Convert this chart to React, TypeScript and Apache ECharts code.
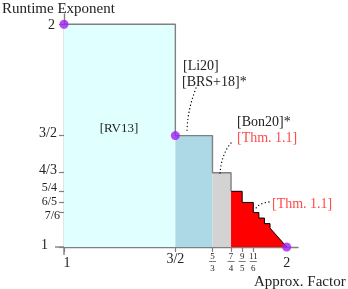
import React, { useEffect, useRef } from "react";
import * as echarts from "echarts";

// Staircase regions (boundaries on the approximation-factor axis, heights on the exponent axis)
const regionX = [1, 3 / 2, 5 / 3, 7 / 4];
const regionY = [2, 3 / 2, 4 / 3];
const regionColors = ["#e0ffff", "#add8e6", "#d3d3d3"];

// Red staircase (Thm. 1.1)
const redX = [1.75, 1.8, 1.85, 1.875, 1.9, 1.925];
const redY = [1.25, 1.2, 1.155, 1.13, 1.105, 1.085];
const redEnd = [2, 1];

// Purple points
const dotX = [1, 1.5, 2];
const dotY = [2, 1.5, 1];

// Axis ticks and labels
const xTickValues = [1, 1.5, 5 / 3, 1.75, 1.8, 1.85];
const xLabelValues = [1, 1.5, 5 / 3, 1.75, 1.8, 1.85, 2];
const xLabelTexts = ["1", "3/2", "5/3", "7/4", "9/5", "11/6", "2"];
const yTickValues = [1, 1.155, 1.2, 1.25, 4 / 3, 1.5, 2];
const yLabelTexts = ["1", "7/6", "6/5", "5/4", "4/3", "3/2", "2"];

const SERIF = "Liberation Serif";
const TXT = "#222";
const RED_TXT = "#ff4a4a";
const GRAY = "#808080";

function findIdx(vals: number[], v: number) {
  for (let i = 0; i < vals.length; i++) if (Math.abs(vals[i] - v) < 1e-6) return i;
  return -1;
}

export default function App() {
  const ref = useRef<HTMLDivElement>(null);
  useEffect(() => {
    if (!ref.current) return;
    const chart = echarts.init(ref.current, undefined, { renderer: "svg" });

    const areaSeries = regionColors.map((c, i) => ({
      type: "line",
      data: [
        [regionX[i], regionY[i]],
        [regionX[i + 1], regionY[i]],
      ],
      symbol: "none",
      lineStyle: { width: 0 },
      areaStyle: { color: c, opacity: 1, origin: "start" },
      z: 1,
    }));

    const outline: number[][] = regionY.map((y, i) => [regionX[i], y]);
    outline.push([regionX[3], redY[0]]);

    const redStep = redX.map((x, i) => [x, redY[i]]);

    const option: any = {
      animation: false,
      grid: { left: 64, top: 14, width: 234, height: 233, outerBoundsMode: "none", containLabel: false },
      xAxis: {
        type: "value",
        min: 1,
        max: 2.0507,
        splitLine: { show: false },
        axisLine: { show: true, lineStyle: { color: GRAY, width: 1.4 } },
        axisTick: { show: true, customValues: xTickValues, length: 5, lineStyle: { color: GRAY, width: 1.2 } },
        axisLabel: {
          customValues: xLabelValues,
          margin: 5,
          color: TXT,
          fontFamily: SERIF,
          formatter: (v: number) => {
            const i = findIdx(xLabelValues, v);
            const t = i >= 0 ? xLabelTexts[i] : "";
            if (t === "1") return "{lo1|1}";
            if (t === "2") return "{lo|2}";
            if (t === "3/2") return "{mid|3/2}";
            const [n, d] = t.split("/");
            return `{n|${n}}\n{b| }\n{d|${d}}`;
          },
          rich: {
            lo1: { fontFamily: SERIF, fontSize: 14, lineHeight: 20, padding: [0, 0, 0, 6], color: TXT },
            lo: { fontFamily: SERIF, fontSize: 14, lineHeight: 20, color: TXT },
            mid: { fontFamily: SERIF, fontSize: 14, lineHeight: 13, color: TXT },
            n: { fontFamily: SERIF, fontSize: 9, lineHeight: 8, color: TXT, align: "center" },
            b: { fontSize: 1, width: 7, height: 0.7, lineHeight: 3, backgroundColor: "#444", align: "center" },
            d: { fontFamily: SERIF, fontSize: 9, lineHeight: 9, color: TXT, align: "center" },
          },
        },
      },
      yAxis: {
        type: "value",
        min: 1,
        max: 2.046,
        splitLine: { show: false },
        axisLine: { show: true, lineStyle: { color: GRAY, width: 1.4 } },
        axisTick: { show: true, customValues: yTickValues, length: 5, lineStyle: { color: GRAY, width: 1.2 } },
        axisLabel: {
          customValues: yTickValues,
          margin: 4,
          color: TXT,
          fontFamily: SERIF,
          fontSize: 14,
          formatter: (v: number) => {
            const i = findIdx(yTickValues, v);
            const t = i >= 0 ? yLabelTexts[i] : "";
            if (t === "1") return "{one|1}";
            if (t === "2") return "{two|2}";
            if (t === "7/6") return "{low|7/6}";
            if (t === "6/5") return "{high|6/5}";
            if (t === "5/4") return "{mid|5/4}";
            return "{up|" + t + "}";
          },
          rich: {
            one: { fontFamily: SERIF, fontSize: 14, color: TXT, padding: [0, 12, 6, 0] },
            two: { fontFamily: SERIF, fontSize: 14, color: TXT, padding: [0, 5, 0, 0] },
            low: { fontFamily: SERIF, fontSize: 12, lineHeight: 12, color: TXT, padding: [5, 0, 0, 0] },
            high: { fontFamily: SERIF, fontSize: 12, lineHeight: 12, color: TXT, padding: [0, 3, 3, 0] },
            mid: { fontFamily: SERIF, fontSize: 12, lineHeight: 12, color: TXT, padding: [0, 3, 8, 0] },
            up: { fontFamily: SERIF, fontSize: 14, color: TXT, padding: [0, 3, 6, 0] },
          },
        },
      },
      series: [
        ...areaSeries,
        {
          type: "line",
          data: redStep,
          step: "end",
          symbol: "none",
          lineStyle: { color: "#000", width: 1 },
          areaStyle: { color: "#ff0000", opacity: 1, origin: "start" },
          z: 2,
        },
        {
          type: "line",
          data: [redStep[redStep.length - 1], redEnd],
          symbol: "none",
          lineStyle: { color: "#000", width: 1 },
          areaStyle: { color: "#ff0000", opacity: 1, origin: "start" },
          z: 2,
        },
        {
          type: "line",
          data: outline,
          step: "end",
          symbol: "none",
          lineStyle: { color: GRAY, width: 1.4 },
          z: 3,
        },
        {
          type: "scatter",
          data: dotX.map((x, i) => [x, dotY[i]]),
          symbol: "circle",
          symbolSize: 9,
          itemStyle: { color: "#a020f0" },
          z: 10,
        },
      ],
      graphic: [
        // axis extensions past the origin
        { type: "line", shape: { x1: 55, y1: 247, x2: 64, y2: 247 }, style: { stroke: GRAY, lineWidth: 1.4 }, z: 5 },
        { type: "line", shape: { x1: 64, y1: 247, x2: 64, y2: 255 }, style: { stroke: GRAY, lineWidth: 1.4 }, z: 5 },
        // titles
        { type: "text", x: 2, y: 8, style: { text: "Runtime Exponent", fontFamily: SERIF, fontSize: 15, fill: TXT, align: "left", verticalAlign: "middle" }, z: 20 },
        { type: "text", x: 254, y: 281, style: { text: "Approx. Factor", fontFamily: SERIF, fontSize: 15, fill: TXT, align: "left", verticalAlign: "middle" }, z: 20 },
        // annotations
        { type: "text", x: 119, y: 127, style: { text: "[RV13]", fontFamily: SERIF, fontSize: 13, fill: TXT, align: "center", verticalAlign: "middle" }, z: 20 },
        { type: "text", x: 183, y: 65, style: { text: "[Li20]", fontFamily: SERIF, fontSize: 14, fill: TXT, align: "left", verticalAlign: "middle" }, z: 20 },
        { type: "text", x: 182, y: 81, style: { text: "[BRS+18]*", fontFamily: SERIF, fontSize: 14, fill: TXT, align: "left", verticalAlign: "middle" }, z: 20 },
        { type: "text", x: 237, y: 121, style: { text: "[Bon20]*", fontFamily: SERIF, fontSize: 14, fill: TXT, align: "left", verticalAlign: "middle" }, z: 20 },
        { type: "text", x: 237, y: 137, style: { text: "[Thm. 1.1]", fontFamily: SERIF, fontSize: 14, fill: RED_TXT, align: "left", verticalAlign: "middle" }, z: 20 },
        { type: "text", x: 272, y: 203, style: { text: "[Thm. 1.1]", fontFamily: SERIF, fontSize: 14, fill: RED_TXT, align: "left", verticalAlign: "middle" }, z: 20 },
        // dotted connectors
        { type: "bezierCurve", shape: { x1: 196, y1: 88, cpx1: 190, cpy1: 104, cpx2: 187, cpy2: 118, x2: 187, y2: 133 }, style: { stroke: "#000", lineWidth: 1.3, lineDash: [0.1, 3.5], lineCap: "round", fill: null }, z: 20 },
        { type: "bezierCurve", shape: { x1: 231, y1: 143, cpx1: 224, cpy1: 151, cpx2: 221, cpy2: 162, x2: 220, y2: 173 }, style: { stroke: "#000", lineWidth: 1.3, lineDash: [0.1, 3.5], lineCap: "round", fill: null }, z: 20 },
        { type: "bezierCurve", shape: { x1: 269, y1: 202, cpx1: 262, cpy1: 203, cpx2: 257, cpy2: 205, x2: 255, y2: 210 }, style: { stroke: "#000", lineWidth: 1.3, lineDash: [0.1, 3.5], lineCap: "round", fill: null }, z: 20 },
      ],
    };
    chart.setOption(option);
    return () => chart.dispose();
  }, []);
  return <div ref={ref} style={{ position: "fixed", left: 0, top: 0, width: 348, height: 289 }} />;
}
